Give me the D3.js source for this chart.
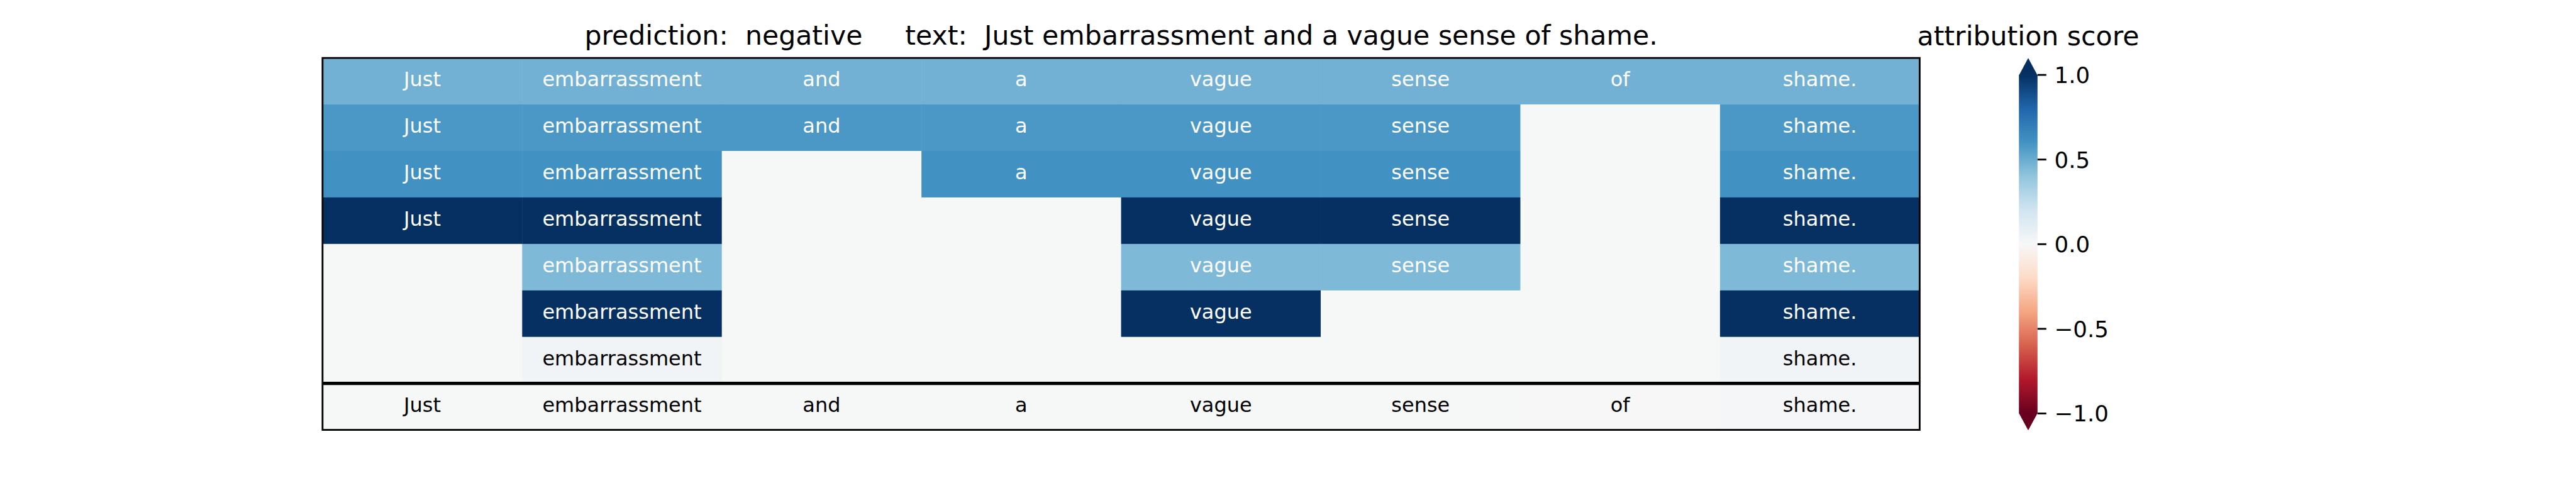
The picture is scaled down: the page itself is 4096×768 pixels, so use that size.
<!DOCTYPE html>
<html><head><meta charset="utf-8">
<script src="https://cdn.jsdelivr.net/npm/d3@7"></script>
<style>html,body{margin:0;padding:0;background:#fff;overflow:hidden;} svg{display:block;}</style>
</head><body><svg id="chart"></svg>
<script>
// ---------------- data ----------------
const tokens = ["Just", "embarrassment", "and", "a", "vague", "sense", "of", "shame."];
// hierarchical attribution levels (top to bottom); null = token not part of a span at this level
const level0 = [0.48, 0.48, 0.48, 0.48, 0.48, 0.48, 0.48, 0.48];
const level1 = [0.58, 0.58, 0.58, 0.58, 0.58, 0.58, null, 0.58];
const level2 = [0.61, 0.61, null, 0.61, 0.61, 0.61, null, 0.61];
const level3 = [1.0, 1.0, null, null, 1.0, 1.0, null, 1.0];
const level4 = [null, 0.45, null, null, 0.45, 0.45, null, 0.45];
const level5 = [null, 1.0, null, null, 1.0, null, null, 1.0];
const level6 = [null, 0.03, null, null, null, null, null, 0.03];
const baselineRow = [0.005, 0.005, 0.005, 0.005, 0.005, 0.005, 0.0, 0.012];
const blankValue = 0.004;
const prediction = "negative";
const sentence = "Just embarrassment and a vague sense of shame.";
const colorTicks = [1.0, 0.5, 0.0, -0.5, -1.0];
const colorTickLabels = ["1.0", "0.5", "0.0", "\u22120.5", "\u22121.0"];
const rdbu = ["#67001f","#b2182b","#d6604d","#f4a582","#fddbc7","#f7f7f7","#d1e5f0","#92c5de","#4393c3","#2166ac","#053061"];

// ---------------- layout ----------------
const W = 4096, H = 768, S = 4096 / 4800;
const FONT = "'DejaVu Sans', sans-serif";
const svg = d3.select("#chart").attr("width", W).attr("height", H);
svg.append("rect").attr("width", W).attr("height", H).attr("fill", "#fff");

const levels = [level0, level1, level2, level3, level4, level5, level6];
const rows = levels.concat([baselineRow]);

const x0 = 601 * S, x1 = 3577 * S, y0 = 108 * S, y1 = 801 * S;
const xScale = d3.scaleBand().domain(d3.range(tokens.length)).range([x0, x1]);
const yScale = d3.scaleBand().domain(d3.range(rows.length)).range([y0, y1]);

const color = d3.scaleLinear()
  .domain(d3.range(11).map(i => -1 + i * 0.2))
  .range(rdbu)
  .interpolate(d3.interpolateRgb)
  .clamp(true);

const cellFont = 37.5 * S;
const cells = [];
rows.forEach((r, ri) => r.forEach((v, ci) => cells.push({ri, ci, v, tok: tokens[ci], base: ri === rows.length - 1})));

const g = svg.append("g");
g.selectAll("rect.cell").data(cells).join("rect")
  .attr("class", "cell")
  .attr("x", d => xScale(d.ci))
  .attr("y", d => yScale(d.ri))
  .attr("width", xScale.bandwidth() + 0.5)
  .attr("height", yScale.bandwidth() + 0.5)
  .attr("fill", d => color(d.v === null ? blankValue : d.v));

g.selectAll("text.lbl").data(cells.filter(d => d.v !== null)).join("text")
  .attr("class", "lbl")
  .attr("x", d => xScale(d.ci) + xScale.bandwidth() / 2)
  .attr("y", d => yScale(d.ri) + yScale.bandwidth() / 2 + 0.26 * cellFont)
  .attr("text-anchor", "middle")
  .attr("font-family", FONT)
  .attr("font-size", cellFont)
  .attr("fill", d => Math.abs(d.v) > 0.3 ? "#fff" : "#000")
  .text(d => d.tok);

// separator between levels and baseline
g.append("line")
  .attr("x1", x0).attr("x2", x1)
  .attr("y1", yScale(rows.length - 1)).attr("y2", yScale(rows.length - 1))
  .attr("stroke", "#000").attr("stroke-width", 5.2);

// frame
g.append("rect")
  .attr("x", x0).attr("y", y0).attr("width", x1 - x0).attr("height", y1 - y0)
  .attr("fill", "none").attr("stroke", "#000").attr("stroke-width", 2.84);

// title
svg.append("text")
  .attr("x", (x0 + x1) / 2).attr("y", 82.7 * S)
  .attr("text-anchor", "middle")
  .attr("font-family", FONT).attr("font-size", 50 * S)
  .attr("xml:space", "preserve").style("white-space", "pre")
  .text("prediction:  " + prediction + "     text:  " + sentence);

// ---------------- colorbar ----------------
const cbX0 = 3762 * S, cbX1 = 3796.6 * S, cbXc = (cbX0 + cbX1) / 2;
const cy = d3.scaleLinear().domain([-1, 1]).range([770.4 * S, 139.6 * S]);
const ext = 0.05 * (cy(-1) - cy(1));

const defs = svg.append("defs");
const grad = defs.append("linearGradient").attr("id", "cbgrad")
  .attr("x1", 0).attr("y1", 1).attr("x2", 0).attr("y2", 0);
color.domain().forEach(v => {
  grad.append("stop").attr("offset", (v + 1) / 2).attr("stop-color", color(v));
});
svg.append("rect")
  .attr("x", cbX0).attr("y", cy(1)).attr("width", cbX1 - cbX0).attr("height", cy(-1) - cy(1))
  .attr("fill", "url(#cbgrad)");
svg.append("path")
  .attr("d", `M${cbX0},${cy(1) + 0.5}L${cbXc},${cy(1) - ext}L${cbX1},${cy(1) + 0.5}Z`)
  .attr("fill", color(1));
svg.append("path")
  .attr("d", `M${cbX0},${cy(-1) - 0.5}L${cbXc},${cy(-1) + ext}L${cbX1},${cy(-1) - 0.5}Z`)
  .attr("fill", color(-1));

const tickLen = 14, tickPad = 12.8, tickFont = 41.7 * S;
const tg = svg.append("g");
tg.selectAll("line").data(colorTicks).join("line")
  .attr("x1", cbX1).attr("x2", cbX1 + tickLen)
  .attr("y1", d => cy(d)).attr("y2", d => cy(d))
  .attr("stroke", "#000").attr("stroke-width", 2.84);
tg.selectAll("text").data(colorTicks).join("text")
  .attr("x", cbX1 + tickLen + tickPad)
  .attr("y", d => cy(d) + 0.365 * tickFont)
  .attr("font-family", FONT).attr("font-size", tickFont)
  .text((d, i) => colorTickLabels[i]);

svg.append("text")
  .attr("x", cbXc).attr("y", 84.7 * S)
  .attr("text-anchor", "middle")
  .attr("font-family", FONT).attr("font-size", 50 * S)
  .text("attribution score");
</script>
</body></html>
